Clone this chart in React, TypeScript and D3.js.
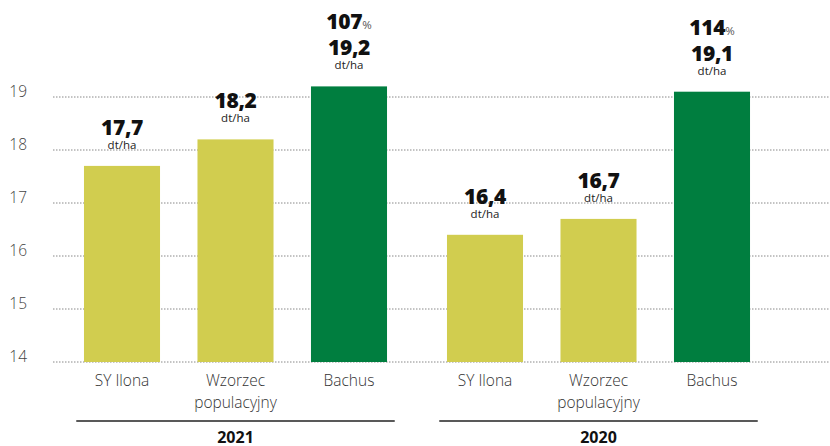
import React from "react";
import * as d3 from "d3";

const years = ["2021", "2020"];
const categories = ["SY Ilona", "Wzorzec populacyjny", "Bachus"];
const categoryLines = [["SY Ilona"], ["Wzorzec", "populacyjny"], ["Bachus"]];
const values2021 = [17.7, 18.2, 19.2];
const values2020 = [16.4, 16.7, 19.1];
const percentLabels = ["107", "114"];
const yTicks = [14, 15, 16, 17, 18, 19];

const W = 830;
const H = 446;
const FONT = "'Open Sans', 'Noto Sans', sans-serif";

export default function App() {
  const x0 = d3.scaleBand<string>().domain(years).range([54, 780]).paddingInner(0.062).paddingOuter(0.031);
  const x1 = d3.scaleBand<string>().domain(categories).range([0, x0.bandwidth()]).paddingInner(0.33).paddingOuter(0.165);
  const y = d3.scaleLinear().domain([14, 19]).range([362, 97]);
  const series = [values2021, values2020];
  const colors = ["#d1cd4f", "#d1cd4f", "#007e3f"];
  const fmt = (v: number) => v.toFixed(1).replace(".", ",");

  return (
    <svg width={W} height={H} style={{ position: "absolute", left: 0, top: 0, fontFamily: FONT }}>
      {yTicks.map((t) => (
        <g key={t}>
          <line x1={53} x2={W} y1={y(t)} y2={y(t)} stroke="#888" strokeWidth={1} strokeDasharray="1.5,1.5" />
          <text x={27} y={y(t)} textAnchor="end" fontSize={15.5} fontWeight={300} fill="#444">{t}</text>
        </g>
      ))}
      {years.map((yr, gi) => {
        const gx = x0(yr)!;
        return (
          <g key={yr}>
            {categories.map((c, ci) => {
              const v = series[gi][ci];
              const bx = gx + x1(c)!;
              const cx = bx + x1.bandwidth() / 2;
              const top = y(v);
              return (
                <g key={c}>
                  <rect x={bx} y={top} width={x1.bandwidth()} height={y(14) - top} fill={colors[ci]} />
                  <text x={cx} y={top - 31} textAnchor="middle" fontSize={21} fontWeight={800} fill="#111" letterSpacing={-0.3}>{fmt(v)}</text>
                  <text x={cx} y={top - 17} textAnchor="middle" fontSize={11.5} fill="#222">dt/ha</text>
                  {ci === 2 && (
                    <text x={cx} y={top - 57} textAnchor="middle" fill="#111">
                      <tspan fontSize={21} fontWeight={800} letterSpacing={-0.3}>{percentLabels[gi]}</tspan>
                      <tspan fontSize={11.5} fill="#555">%</tspan>
                    </text>
                  )}
                  {categoryLines[ci].map((ln, li) => (
                    <text key={li} x={cx} y={386 + li * 22} textAnchor="middle" fontSize={15.5} fontWeight={300} fill="#333">{ln}</text>
                  ))}
                </g>
              );
            })}
            <line x1={gx + 11} x2={gx + x0.bandwidth() - 11} y1={421} y2={421} stroke="#222" strokeWidth={1.5} />
            <text x={gx + x0.bandwidth() / 2} y={443} textAnchor="middle" fontSize={16} fontWeight={700} fill="#111">{yr}</text>
          </g>
        );
      })}
    </svg>
  );
}
